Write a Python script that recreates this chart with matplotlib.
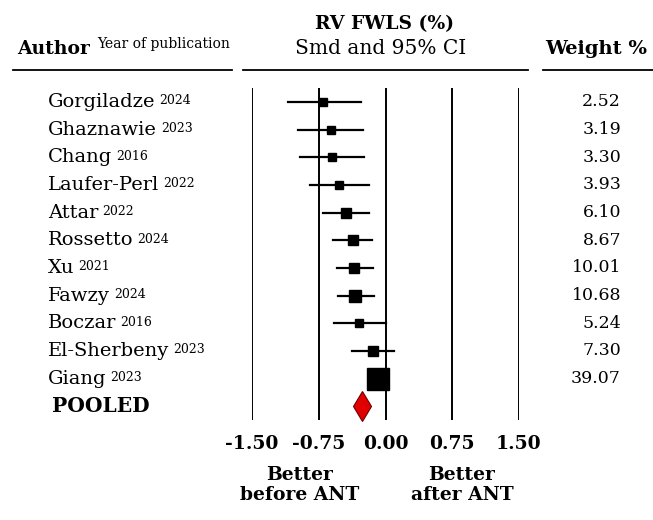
import numpy as np
import matplotlib
matplotlib.use("Agg")
import matplotlib.pyplot as plt
from matplotlib.transforms import blended_transform_factory

plt.rcParams['font.family'] = ['DejaVu Serif']

authors = ['Gorgiladze', 'Ghaznawie', 'Chang', 'Laufer-Perl', 'Attar', 'Rossetto',
           'Xu', 'Fawzy', 'Boczar', 'El-Sherbeny', 'Giang']
years = ['2024', '2023', '2016', '2022', '2022', '2024', '2021', '2024', '2016', '2023', '2023']
smd = [-0.70, -0.61, -0.60, -0.52, -0.44, -0.37, -0.35, -0.34, -0.30, -0.14, -0.08]
ci_low = [-1.10, -0.98, -0.96, -0.85, -0.70, -0.59, -0.55, -0.53, -0.58, -0.38, -0.14]
ci_high = [-0.28, -0.25, -0.24, -0.19, -0.18, -0.15, -0.14, -0.13, 0.00, 0.10, -0.02]
weights = [2.52, 3.19, 3.30, 3.93, 6.10, 8.67, 10.01, 10.68, 5.24, 7.30, 39.07]
pooled = -0.26
xticks = [-1.50, -0.75, 0.00, 0.75, 1.50]

W, H = 653, 520
fig = plt.figure(figsize=(W / 100, H / 100), dpi=100)
# forest panel: x from 252 to 519 px, y from 88 to 420 px
ax = fig.add_axes([252 / W, 1 - 420 / H, (519 - 252) / W, (420 - 88) / H])
ax.set_xlim(-1.5, 1.5)
ax.set_ylim(11.5, -0.5)
for s in ax.spines.values():
    s.set_visible(False)
ax.set_yticks([])
ax.set_xticks(xticks)
ax.set_xticklabels(['%.2f' % t for t in xticks], fontsize=13.5, fontweight='bold')
ax.tick_params(axis='x', length=0, pad=11)
for t in xticks:
    ax.axvline(t, color='black', lw=1.4, zorder=1)

rows = np.arange(len(authors))
for i in rows:
    ax.plot([ci_low[i], ci_high[i]], [i, i], color='black', lw=1.6, zorder=2)
    side = 7 + 0.38 * weights[i]  # square side in px
    ax.plot(smd[i], i, marker='s', color='black', markersize=side * 0.72, zorder=3)
ax.plot(pooled, len(authors), marker='d', markersize=15, markerfacecolor='#e00000',
        markeredgecolor='#700000', markeredgewidth=0.8, zorder=3, clip_on=False)

# left labels and weights
tr = blended_transform_factory(fig.transFigure, ax.transData)
for i in rows:
    t = ax.text(48 / W, i, authors[i], transform=tr, fontsize=14, va='center', ha='left')
    ax.annotate(years[i], xy=(1, 1), xycoords=t, xytext=(3, -1),
                textcoords='offset points', fontsize=9, va='top', ha='left')
    ax.text(621 / W, i, '%.2f' % weights[i], transform=tr, fontsize=12.5,
            va='center', ha='right')
ax.text(52 / W, len(authors), 'POOLED', transform=tr, fontsize=14.5,
        fontweight='bold', va='center', ha='left')

# header
fig.text(17 / W, 1 - 54 / H, 'Author', fontsize=13.5, fontweight='bold',
         va='baseline', ha='left')
fig.text(97 / W, 1 - 48 / H, 'Year of publication', fontsize=10, va='baseline', ha='left')
fig.text(385 / W, 1 - 24 / H, 'RV FWLS (%)', fontsize=13.5, fontweight='bold',
         va='center', ha='center')
fig.text(381 / W, 1 - 48 / H, 'Smd and 95% CI', fontsize=14.5, va='center', ha='center')
fig.text(596 / W, 1 - 54 / H, 'Weight %', fontsize=14, fontweight='bold',
         va='baseline', ha='center')
for x0, x1 in [(13, 232), (243, 528), (543, 653)]:
    fig.add_artist(plt.Line2D([x0 / W, x1 / W], [1 - 70 / H, 1 - 70 / H],
                              color='black', lw=1.3, transform=fig.transFigure))

# footer
fig.text(300 / W, 1 - 485 / H, 'Better\nbefore ANT', fontsize=13.5, fontweight='bold',
         va='center', ha='center', linespacing=1.2)
fig.text(462 / W, 1 - 485 / H, 'Better\nafter ANT', fontsize=13.5, fontweight='bold',
         va='center', ha='center', linespacing=1.2)

fig.savefig('out.png', dpi=100)
